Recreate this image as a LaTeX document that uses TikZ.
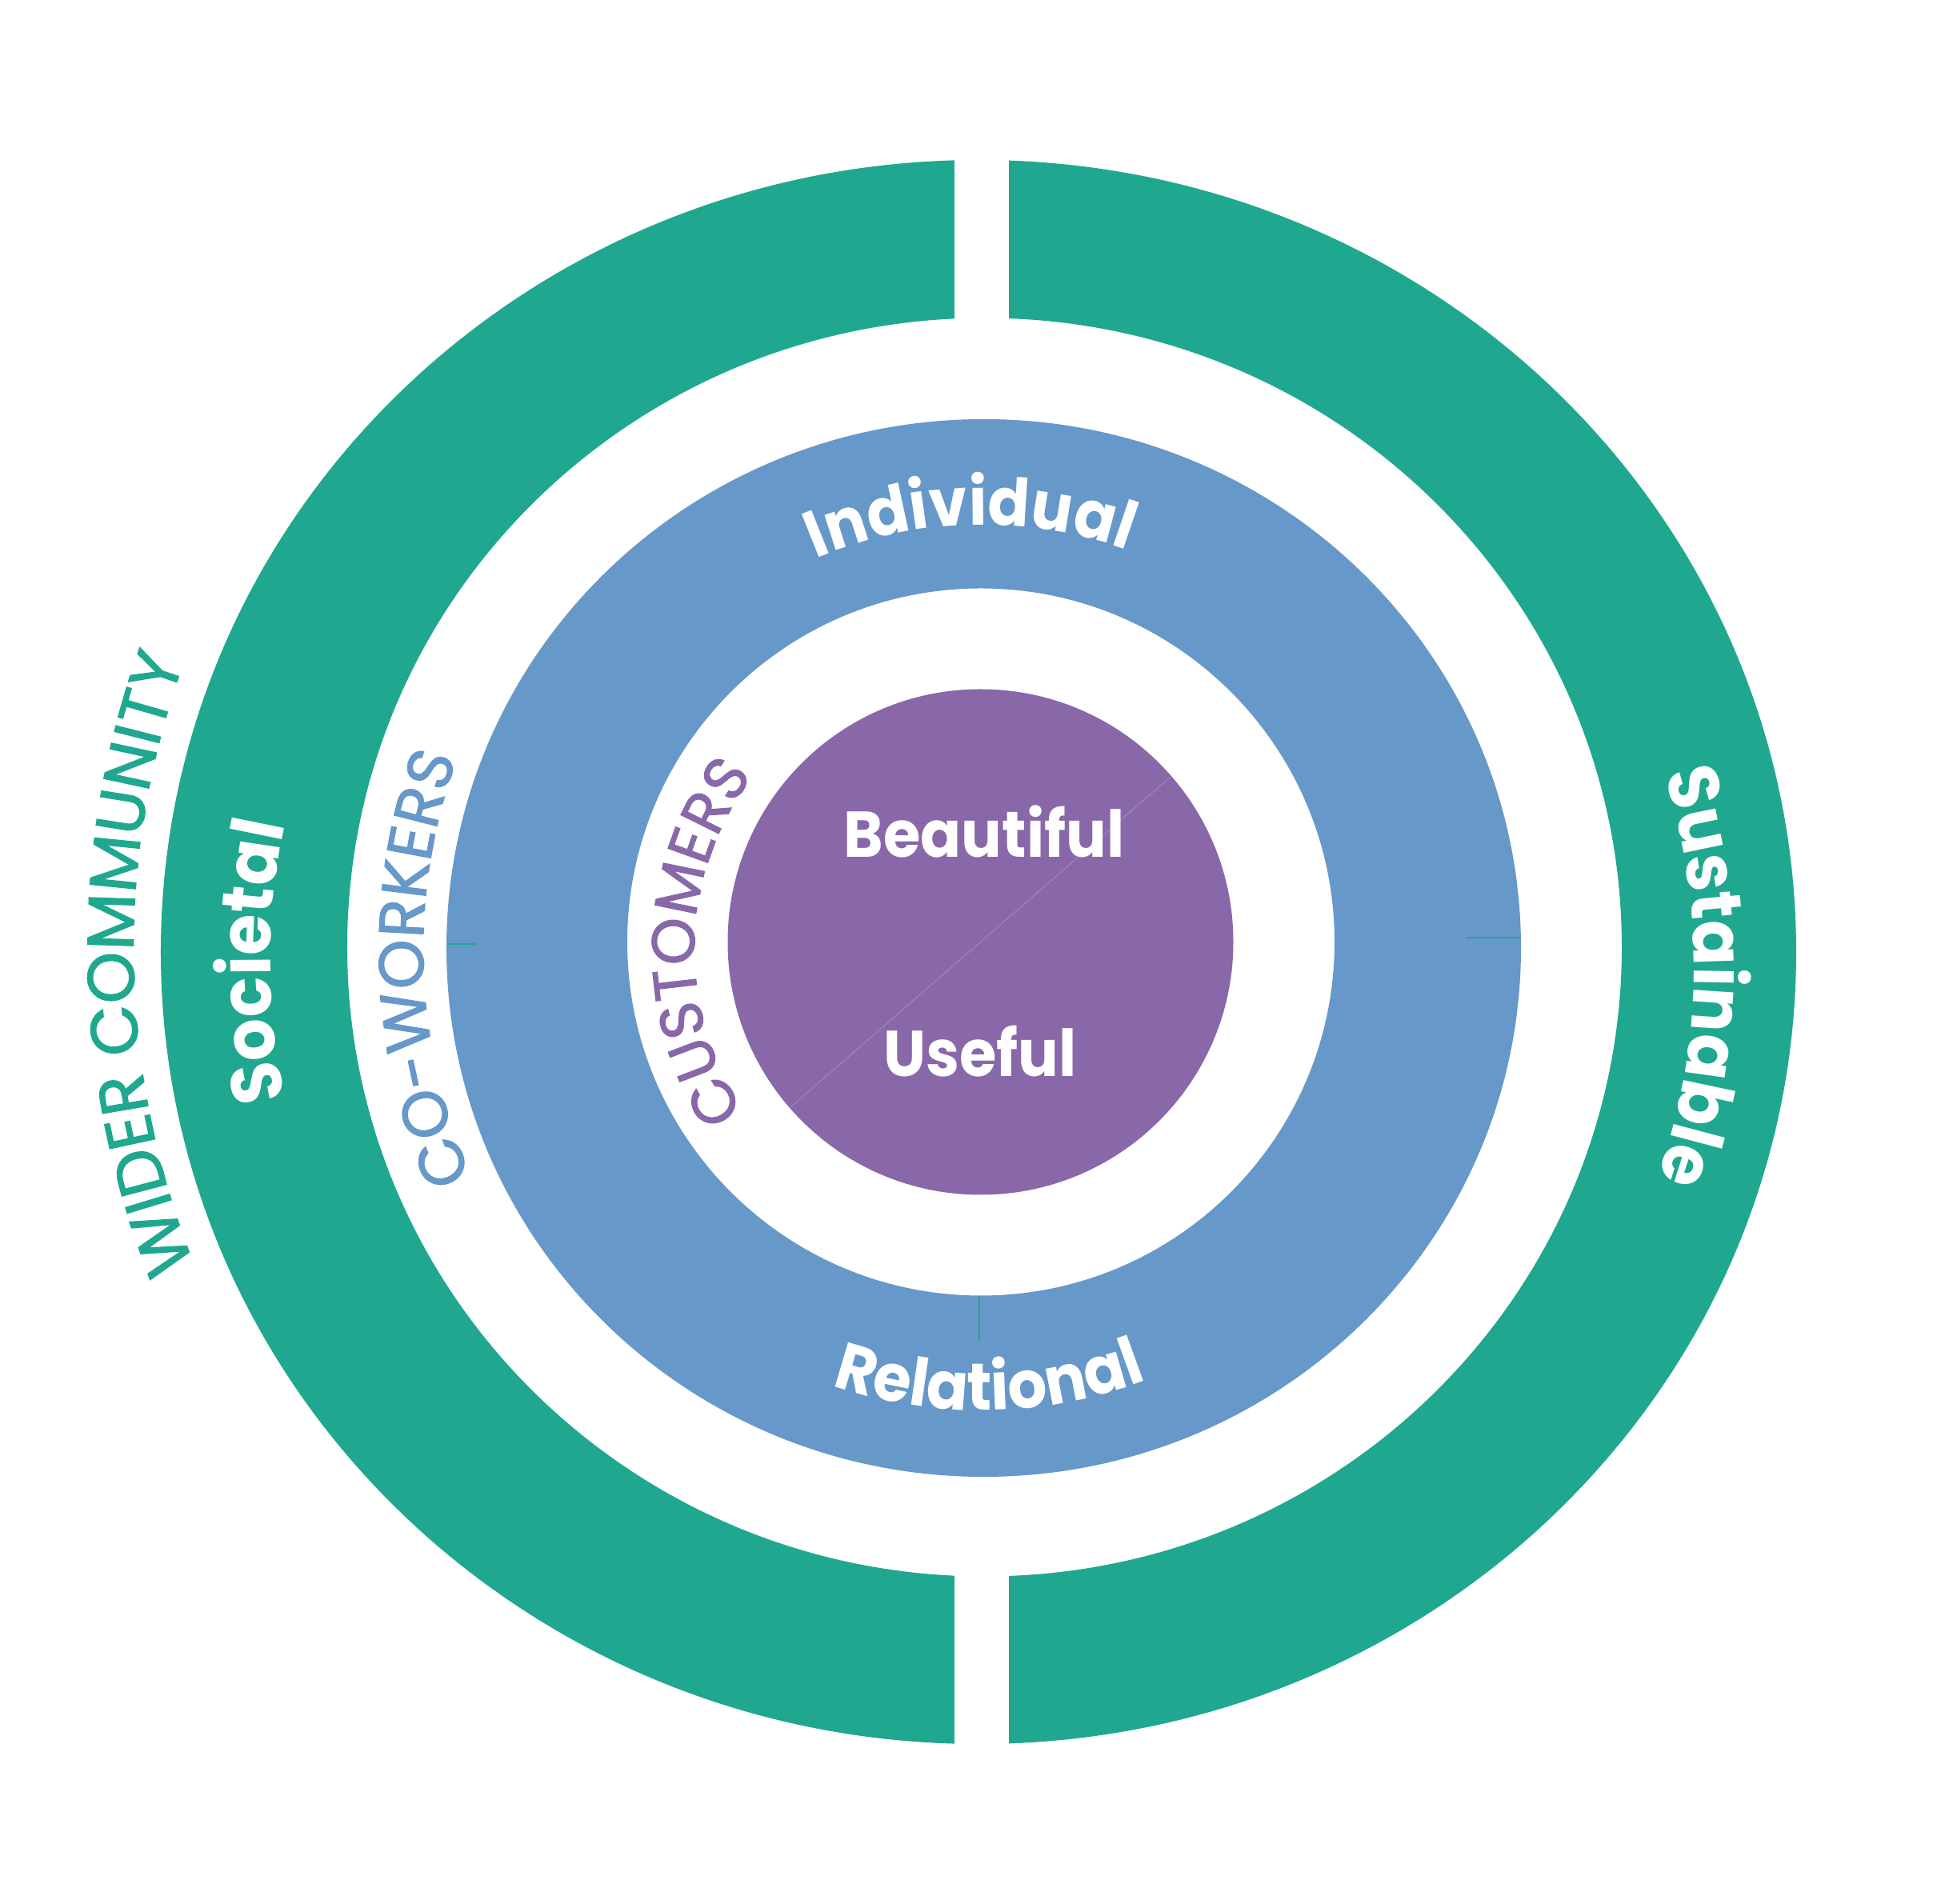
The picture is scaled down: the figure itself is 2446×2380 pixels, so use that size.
\documentclass[tikz,border=0pt]{standalone}
\usepackage{fontspec}
\setmainfont{Poppins}
\newfontfamily\ringfam{Poppins}[FakeStretch=0.93]
\newfontfamily\capsfam{Poppins}[UprightFeatures={FakeBold=1.5}]
\usetikzlibrary{decorations.text, calc}
\definecolor{ringteal}{RGB}{31,168,143}
\definecolor{ringblue}{RGB}{103,152,202}
\definecolor{corepurple}{RGB}{136,104,169}
\definecolor{seampurple}{RGB}{152,124,186}
\newcommand\ringfont[1]{\ringfam\bfseries\fontsize{#1}{#1}\selectfont}
\newcommand\capsfont[1]{\capsfam\fontsize{#1}{#1}\selectfont}

\begin{document}
\begin{tikzpicture}[
    x=0.01cm, y=0.01cm,
    arclabel/.style 2 args={decorate, decoration={text along path, text align=center, text color=#1, text={#2}}},
    corelabel/.style={anchor=base, text=white, font=\ringfont{23}, inner sep=0pt},
    seam/.style={line width=0.5pt}
]
    % Canvas
    \fill[white] (-1227,-1193) rectangle (1219,1187);
    \useasboundingbox (-1227,-1193) rectangle (1219,1187);

    % Rings
    \fill[ringteal, even odd rule] (-4,-3) ellipse [x radius=1022, y radius=990]
        (3.5,3) ellipse [x radius=796.5, y radius=786.5];
    \fill[white] (-34,-1100) rectangle (34,1100);
    \fill[ringblue, even odd rule] (2.5,2) ellipse [x radius=671.5, y radius=661]
        (-1,9.5) circle [radius=442];
    \fill[corepurple] (-1.5,9.5) circle [radius=316];

    % Seams
    \coordinate (seamL) at (-668,7);
    \coordinate (seamLin) at (-632,7);
    \coordinate (seamR) at (674,15);
    \coordinate (seamRin) at (606,15);
    \coordinate (seamB) at (-3,-433);
    \coordinate (seamBin) at (-3,-489);
    \coordinate (coreSW) at ($(-1.5,9.5)+(221:314)$);
    \coordinate (coreNE) at ($(-1.5,9.5)+(41:314)$);
    \draw[seam, ringteal] (seamL) -- (seamLin);
    \draw[seam, ringteal] (seamR) -- (seamRin);
    \draw[seam, ringteal] (seamB) -- (seamBin);
    \draw[seam, seampurple] (coreSW) -- (coreNE);

    % Core words
    \node[corelabel] (beautiful) at (3,115) {Beautiful};
    \node[corelabel] (useful) at (-2,-159) {Useful};

    % Ring words
    \coordinate (socC) at (-89,-15);
    \coordinate (susC) at (90,-20);
    \path[arclabel={white}{|\ringfont{23.5}|Individual}] (121.5:531) arc[start angle=121.5, end angle=61.5, radius=531];
    \path[arclabel={white}{|\ringfont{23.5}|Relational}] (231:576) arc[start angle=231, end angle=311, radius=576];
    \path[arclabel={white}{|\ringfont{25.5}|Societal}] ($(socC)+(220:800)$) arc[start angle=220, end angle=140, radius=800];
    \path[arclabel={white}{|\ringfont{25.5}|Sustainable}] ($(susC)+(39:800)$) arc[start angle=39, end angle=-41, radius=800];

    % Group words
    \path[arclabel={ringteal}{|\capsfont{23.5}|WIDER COMMUNITY}] (221:1060) arc[start angle=221, end angle=141, radius=1060];
    \path[arclabel={ringblue}{|\capsfont{22.5}|CO-WORKERS}] (232:698) arc[start angle=232, end angle=132, radius=698];
    \path[arclabel={corepurple}{|\capsfont{21.5}|CUSTOMERS}] (248.5:359) arc[start angle=248.5, end angle=108.5, radius=359];
\end{tikzpicture}
\end{document}
